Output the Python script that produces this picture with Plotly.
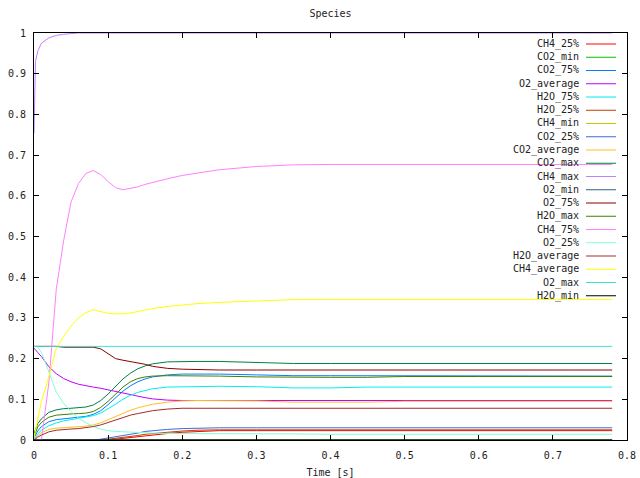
import plotly.graph_objects as go

# time grid [s]
t = [0, 0.002, 0.005, 0.01, 0.02, 0.03, 0.04, 0.05, 0.06, 0.07, 0.08, 0.09, 0.10, 0.11, 0.12,
     0.13, 0.14, 0.15, 0.16, 0.18, 0.20, 0.22, 0.25, 0.30, 0.35, 0.40, 0.45, 0.50, 0.60, 0.70, 0.78]

CH4_25 = [0]*13 + [0.002, 0.004, 0.007, 0.009, 0.011, 0.013, 0.016, 0.019, 0.021, 0.023] + [0.023]*8
CO2_min = [0]*31
CO2_75 = [0.005, 0.012, 0.022, 0.033, 0.045, 0.05, 0.052, 0.053, 0.055, 0.058, 0.063, 0.072, 0.087,
          0.104, 0.12, 0.133, 0.143, 0.15, 0.155, 0.16, 0.162, 0.162, 0.162, 0.16, 0.158, 0.158,
          0.158, 0.157, 0.157, 0.157, 0.157]
O2_average = [0.225, 0.222, 0.215, 0.205, 0.18, 0.163, 0.151, 0.143, 0.137, 0.133, 0.13, 0.127, 0.123,
              0.119, 0.116, 0.112, 0.108, 0.104, 0.101, 0.098] + [0.097]*11
H2O_75 = [0.0, 0.006, 0.015, 0.024, 0.035, 0.042, 0.047, 0.05, 0.053, 0.056, 0.06, 0.066, 0.076, 0.088,
          0.1, 0.11, 0.117, 0.122, 0.126, 0.13, 0.131, 0.132, 0.132, 0.131, 0.128, 0.128, 0.13, 0.13,
          0.13, 0.13, 0.13]
H2O_25 = [0]*12 + [0.002, 0.004, 0.006, 0.009, 0.011, 0.014, 0.016, 0.019, 0.022, 0.024, 0.025] + [0.025]*8
CH4_min = [0]*31
CO2_25 = [0]*11 + [0.002, 0.005, 0.008, 0.01, 0.013, 0.017, 0.021, 0.023, 0.026, 0.028, 0.029, 0.03] + [0.03]*8
CO2_average = [0, 0.005, 0.01, 0.018, 0.026, 0.029, 0.03, 0.031, 0.032, 0.034, 0.037, 0.042, 0.05, 0.058,
               0.066, 0.073, 0.079, 0.084, 0.088, 0.093, 0.096, 0.097, 0.097, 0.096, 0.093, 0.093,
               0.093, 0.095, 0.095, 0.095, 0.095]
CO2_max = [0.016, 0.025, 0.04, 0.052, 0.068, 0.074, 0.077, 0.078, 0.079, 0.081, 0.086, 0.097, 0.113,
           0.132, 0.15, 0.164, 0.175, 0.182, 0.187, 0.192, 0.193, 0.193, 0.193, 0.19] + [0.188]*7
CH4_max = [0.754, 0.93, 0.955, 0.975, 0.988, 0.994, 0.997, 0.999] + [1.0]*23
O2_min = [0]*31
O2_75 = [0.23]*6 + [0.228]*5 + [0.224, 0.212, 0.2, 0.196, 0.193, 0.19, 0.186, 0.181, 0.176, 0.174,
                                0.173, 0.172] + [0.172]*8
H2O_max = [0.008, 0.018, 0.032, 0.043, 0.056, 0.061, 0.063, 0.064, 0.065, 0.066, 0.07, 0.08, 0.095,
           0.113, 0.13, 0.143, 0.151, 0.155, 0.157, 0.158, 0.158, 0.158, 0.157, 0.155, 0.154, 0.154,
           0.154, 0.156, 0.156, 0.156, 0.156]
CH4_75 = [0, 0, 0, 0, 0.14, 0.37, 0.49, 0.585, 0.63, 0.655, 0.662, 0.652, 0.635, 0.62, 0.615, 0.618,
          0.622, 0.628, 0.633, 0.642, 0.65, 0.656, 0.664, 0.672, 0.676] + [0.677]*6
O2_25 = [0.23, 0.23, 0.228, 0.215, 0.168, 0.118, 0.09, 0.07, 0.053, 0.042, 0.033, 0.027, 0.023, 0.021,
         0.02, 0.019, 0.018, 0.018, 0.017, 0.016, 0.016, 0.015, 0.015, 0.015, 0.015] + [0.014]*6
H2O_average = [0, 0.003, 0.007, 0.012, 0.02, 0.024, 0.026, 0.027, 0.028, 0.03, 0.033, 0.037, 0.043,
               0.05, 0.056, 0.061, 0.065, 0.069, 0.072, 0.076, 0.078] + [0.078]*10
CH4_average = [0.005, 0.025, 0.055, 0.095, 0.155, 0.225, 0.255, 0.28, 0.3, 0.313, 0.32, 0.316, 0.311,
               0.31, 0.31, 0.312, 0.316, 0.32, 0.323, 0.328, 0.332, 0.335, 0.338, 0.342] + [0.345]*7
O2_max = [0.23]*31
H2O_min = [0]*31

series_names = ["CH4_25%", "CO2_min", "CO2_75%", "O2_average", "H2O_75%", "H2O_25%", "CH4_min",
                "CO2_25%", "CO2_average", "CO2_max", "CH4_max", "O2_min", "O2_75%", "H2O_max",
                "CH4_75%", "O2_25%", "H2O_average", "CH4_average", "O2_max", "H2O_min"]
series_values = [CH4_25, CO2_min, CO2_75, O2_average, H2O_75, H2O_25, CH4_min, CO2_25, CO2_average,
                 CO2_max, CH4_max, O2_min, O2_75, H2O_max, CH4_75, O2_25, H2O_average, CH4_average,
                 O2_max, H2O_min]
colors = ["#ff0000", "#00c000", "#0080ff", "#c000ff", "#00eeee", "#c04000", "#c8c800", "#4169e1",
          "#ffc020", "#008040", "#c080ff", "#306080", "#8b0000", "#408000", "#ff80ff", "#7fffd4",
          "#a52a2a", "#ffff00", "#40e0d0", "#000000"]

x_ticks = [0, 0.1, 0.2, 0.3, 0.4, 0.5, 0.6, 0.7, 0.8]
y_ticks = [0, 0.1, 0.2, 0.3, 0.4, 0.5, 0.6, 0.7, 0.8, 0.9, 1]

FONT = "DejaVu Sans Mono"
fig = go.Figure()
for name, vals, col in zip(series_names, series_values, colors):
    fig.add_trace(go.Scatter(x=t, y=vals, mode="lines", name=name,
                             line=dict(color=col, width=1), showlegend=False))

# gnuplot-style key: text right-aligned, line sample to the right
L, R, T, B = 34, 13, 33, 38
W, H = 640, 478
pw, ph = W - L - R, H - T - B
annotations = []
shapes = []
for i, (name, col) in enumerate(zip(series_names, colors)):
    py = 44 + i * 13.25
    yp = (H - B - py) / ph
    annotations.append(dict(xref="paper", yref="paper", x=(581 - L) / pw, y=yp, text=name,
                            showarrow=False, xanchor="right", yanchor="middle",
                            font=dict(family=FONT, size=10, color="#222222")))
    shapes.append(dict(type="line", xref="paper", yref="paper", x0=(586 - L) / pw, x1=(616 - L) / pw,
                       y0=yp, y1=yp, line=dict(color=col, width=1)))

axis_common = dict(showline=True, linecolor="black", linewidth=1, mirror="ticks", ticks="inside",
                   ticklen=5, tickwidth=1, tickcolor="black", showgrid=False, zeroline=False,
                   automargin=False,
                   tickfont=dict(family=FONT, size=10, color="#222222"))
fig.update_layout(
    width=W, height=H, autosize=False,
    margin=dict(l=L, r=R, t=T, b=B, autoexpand=False),
    paper_bgcolor="white", plot_bgcolor="white",
    title=dict(text="Species", x=(L + pw / 2) / W, xanchor="center", y=1 - 13 / H, yanchor="middle",
               font=dict(family=FONT, size=10, color="#222222"), automargin=False),
    xaxis=dict(range=[0, 0.8], tickvals=x_ticks, ticktext=[f"{v:g}" for v in x_ticks],
               ticklabelstandoff=6,
               title=dict(text="Time [s]", standoff=10, font=dict(family=FONT, size=10, color="#222222")),
               **axis_common),
    yaxis=dict(range=[0, 1], tickvals=y_ticks, ticktext=[f"{v:g}" for v in y_ticks],
               ticklabelstandoff=5, **axis_common),
    annotations=annotations, shapes=shapes,
)
fig.write_html("out.html", config={"displayModeBar": False},
               post_script="document.body.style.margin='0';document.body.style.overflow='hidden';")
